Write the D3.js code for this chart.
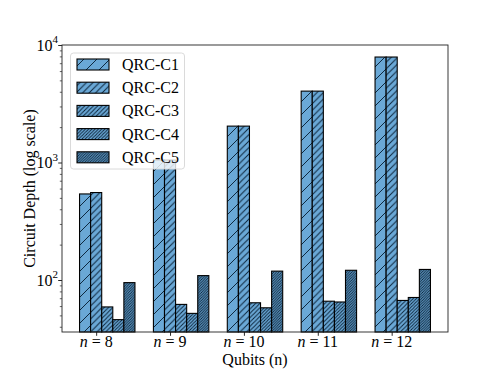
<!DOCTYPE html>
<html><head><meta charset="utf-8">
<script src="https://cdn.jsdelivr.net/npm/d3@7"></script>
<style>body{margin:0;background:#fff;}svg{display:block;}text{font-family:"Liberation Serif","Times New Roman",serif;fill:#000;}</style>
</head><body>
<svg id="c" width="498" height="374"></svg>
<script>
const categories = ["8", "9", "10", "11", "12"];
const seriesNames = ["QRC-C1", "QRC-C2", "QRC-C3", "QRC-C4", "QRC-C5"];
const c1 = [540, 1050, 2040, 4050, 7900];
const c2 = [555, 1050, 2040, 4050, 7900];
const c3 = [59, 62, 64, 66, 67];
const c4 = [46, 52, 58, 65, 71];
const c5 = [95, 109, 119, 121, 123];
const seriesValues = [c1, c2, c3, c4, c5];
const hatchCounts = [1, 2, 3, 4, 5];
const yTicks = [100, 1000, 10000];

const svg = d3.select("#c");
const L = 62, R = 448, T = 45, B = 332;
const w = 0.15;
const span = 4 + 4 * w + w;
const m = 0.05 * span;
const x = d3.scaleLinear().domain([-w / 2 - m, 4 + 4 * w + w / 2 + m]).range([L, R]);
const y = d3.scaleLog().domain([36.1, 10000]).range([B, T]);
const face = "#6aa8d6";

const defs = svg.append("defs");
hatchCounts.forEach((h, i) => {
  const s = 78 / (6 * h);
  const p = defs.append("pattern").attr("id", "h" + i)
    .attr("patternUnits", "userSpaceOnUse").attr("width", s).attr("height", s);
  p.append("rect").attr("width", s).attr("height", s).attr("fill", face);
  p.append("path")
    .attr("d", `M0,${s} L${s},0 M${-s/2},${s/2} L${s/2},${-s/2} M${s/2},${1.5*s} L${1.5*s},${s/2}`)
    .attr("stroke", "#0a2238").attr("stroke-width", 0.95);
});

// bars
const bw = x(w) - x(0);
seriesValues.forEach((vals, i) => {
  svg.append("g").selectAll("rect").data(vals).enter().append("rect")
    .attr("x", (d, g) => x(g + i * w) - bw / 2)
    .attr("width", bw)
    .attr("y", d => y(d))
    .attr("height", d => B - y(d))
    .attr("fill", `url(#h${i})`)
    .attr("stroke", "#000").attr("stroke-width", 1.1);
});

// axes
const xAxis = d3.axisBottom(x).tickValues(categories.map((c, g) => g + w))
  .tickFormat("").tickSize(3.8);
const gx = svg.append("g").attr("transform", `translate(0,${B})`).call(xAxis);
gx.select(".domain").remove();
gx.selectAll("line").attr("stroke", "#000").attr("stroke-width", 0.85);

const yAxis = d3.axisLeft(y).tickValues(yTicks).tickFormat("").tickSize(3.8);
const gy = svg.append("g").attr("transform", `translate(${L},0)`).call(yAxis);
gy.select(".domain").remove();
gy.selectAll("line").attr("stroke", "#000").attr("stroke-width", 0.85);

const minor = [];
[10, 100, 1000].forEach(d => { for (let k = 2; k <= 9; k++) { const v = d * k; if (v >= 36.1 && v <= 10000) minor.push(v); } });
const gym = svg.append("g").attr("transform", `translate(${L},0)`).call(d3.axisLeft(y).tickValues(minor).tickFormat("").tickSize(2.2));
gym.select(".domain").remove();
gym.selectAll("line").attr("stroke", "#000").attr("stroke-width", 0.6);

svg.append("rect").attr("x", L).attr("y", T).attr("width", R - L).attr("height", B - T)
  .attr("fill", "none").attr("stroke", "#222").attr("stroke-width", 0.9);

// y tick labels
yTicks.forEach(v => {
  const t = svg.append("text").attr("x", L - 4).attr("y", y(v) + 5.5).attr("text-anchor", "end").style("font-size", "16px");
  t.append("tspan").text("10");
  t.append("tspan").attr("dy", -7.5).style("font-size", "11px").text(String(Math.round(Math.log10(v))));
});

// x tick labels
categories.forEach((c, g) => {
  const t = svg.append("text").attr("x", x(g + w)).attr("y", 347).attr("text-anchor", "middle").style("font-size", "16px");
  t.append("tspan").style("font-style", "italic").text("n");
  t.append("tspan").text(" = " + c);
});

svg.append("text").attr("x", (L + R) / 2).attr("y", 365).attr("text-anchor", "middle")
  .style("font-size", "16px").text("Qubits (n)");
svg.append("text").attr("transform", `translate(35,${(T + B) / 2}) rotate(-90)`).attr("text-anchor", "middle")
  .style("font-size", "16px").text("Circuit Depth (log scale)");

// legend
const lg = svg.append("g");
lg.append("rect").attr("x", 70.5).attr("y", 53).attr("width", 114).attr("height", 116).attr("rx", 3)
  .attr("fill", "#fff").attr("fill-opacity", 0.8).attr("stroke", "#d6d6d6").attr("stroke-width", 0.9);
seriesNames.forEach((name, i) => {
  const cy = 64.5 + i * 23.2;
  lg.append("rect").attr("x", 77).attr("y", cy - 5.5).attr("width", 32).attr("height", 11)
    .attr("fill", `url(#h${i})`).attr("stroke", "#000").attr("stroke-width", 1.1);
  lg.append("text").attr("x", 122).attr("y", cy + 5.5).style("font-size", "16px").text(name);
});
</script>
</body></html>
